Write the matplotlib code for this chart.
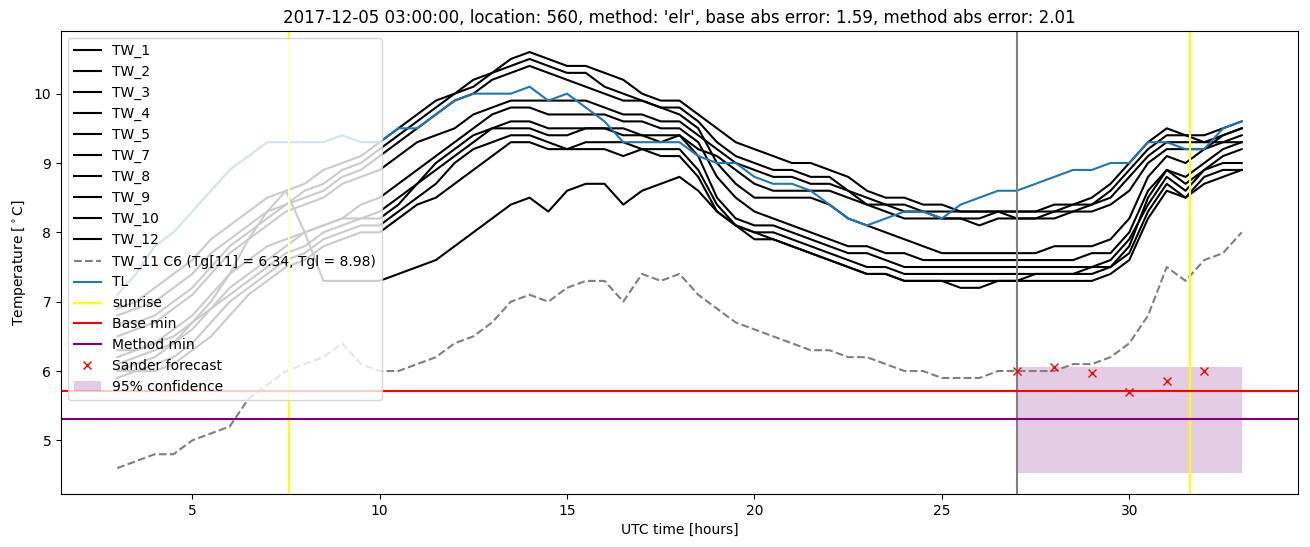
import numpy as np
import matplotlib
matplotlib.use("Agg")
import matplotlib.pyplot as plt

# half-hour samples from 03:00 to 33:00 UTC
hours = np.arange(3.0, 33.01, 0.5)

# TW sensor series
TW_1 = [6.9, 7.0, 7.2, 7.4, 7.6, 7.9, 8.1, 8.3, 8.5, 8.6, 8.7, 8.9, 9.0, 9.1, 9.3, 9.5, 9.7, 9.9, 10.0, 10.2,
        10.3, 10.5, 10.6, 10.5, 10.4, 10.4, 10.3, 10.2, 10.0, 9.9, 9.9, 9.7, 9.5, 9.3, 9.2, 9.1, 9.0, 9.0, 8.9, 8.8,
        8.6, 8.5, 8.5, 8.4, 8.4, 8.3, 8.3, 8.3, 8.3, 8.3, 8.4, 8.4, 8.5, 8.7, 9.0, 9.3, 9.5, 9.4, 9.4, 9.5, 9.6]
TW_2 = [6.8, 6.9, 7.0, 7.2, 7.4, 7.7, 7.9, 8.1, 8.3, 8.4, 8.6, 8.7, 8.9, 9.0, 9.2, 9.4, 9.6, 9.8, 10.0, 10.1,
        10.3, 10.4, 10.5, 10.4, 10.3, 10.3, 10.1, 10.0, 9.9, 9.8, 9.8, 9.6, 9.3, 9.1, 9.0, 8.9, 8.9, 8.8, 8.8, 8.6,
        8.5, 8.4, 8.4, 8.3, 8.3, 8.3, 8.3, 8.3, 8.3, 8.3, 8.3, 8.4, 8.4, 8.6, 8.9, 9.2, 9.4, 9.4, 9.3, 9.4, 9.5]
TW_3 = [6.5, 6.6, 6.7, 6.9, 7.1, 7.4, 7.7, 7.9, 8.1, 8.3, 8.4, 8.5, 8.7, 8.8, 8.9, 9.1, 9.3, 9.4, 9.5, 9.7,
        9.8, 9.9, 9.9, 9.9, 9.9, 9.9, 9.8, 9.7, 9.7, 9.6, 9.6, 9.4, 9.2, 9.0, 8.9, 8.8, 8.8, 8.7, 8.7, 8.6,
        8.4, 8.4, 8.3, 8.3, 8.2, 8.2, 8.2, 8.3, 8.2, 8.2, 8.3, 8.3, 8.4, 8.5, 8.8, 9.1, 9.3, 9.3, 9.3, 9.3, 9.4]
TW_4 = [6.2, 6.3, 6.4, 6.6, 6.8, 7.1, 7.4, 7.6, 7.8, 7.9, 8.0, 8.1, 8.2, 8.2, 8.3, 8.5, 8.7, 9.0, 9.2, 9.4,
        9.5, 9.6, 9.6, 9.5, 9.5, 9.5, 9.5, 9.5, 9.4, 9.4, 9.4, 9.2, 9.1, 8.9, 8.7, 8.6, 8.6, 8.6, 8.6, 8.5,
        8.4, 8.3, 8.2, 8.2, 8.2, 8.2, 8.1, 8.2, 8.2, 8.2, 8.2, 8.3, 8.3, 8.4, 8.6, 9.0, 9.2, 9.2, 9.2, 9.3, 9.3]
TW_5 = [6.7, 6.7, 6.8, 7.0, 7.2, 7.5, 7.8, 8.0, 8.2, 8.4, 8.5, 8.6, 8.8, 8.9, 9.1, 9.3, 9.5, 9.7, 9.9, 10.0,
        10.2, 10.3, 10.4, 10.3, 10.2, 10.1, 10.0, 9.9, 9.9, 9.8, 9.7, 9.5, 9.0, 8.7, 8.5, 8.5, 8.5, 8.5, 8.4, 8.2,
        8.1, 8.0, 7.9, 7.8, 7.7, 7.7, 7.7, 7.7, 7.7, 7.7, 7.8, 7.8, 7.8, 7.9, 8.2, 8.8, 9.1, 9.0, 9.2, 9.4, 9.5]
TW_7 = [6.3, 6.3, 6.4, 6.5, 6.7, 6.9, 7.2, 7.4, 7.6, 7.8, 8.0, 8.1, 8.2, 8.4, 8.5, 8.7, 8.9, 9.1, 9.3, 9.5,
        9.7, 9.8, 9.8, 9.7, 9.7, 9.7, 9.7, 9.6, 9.6, 9.5, 9.5, 9.3, 8.8, 8.5, 8.3, 8.2, 8.1, 8.0, 7.9, 7.8,
        7.8, 7.7, 7.7, 7.6, 7.6, 7.6, 7.6, 7.6, 7.6, 7.6, 7.6, 7.6, 7.7, 7.7, 8.0, 8.6, 8.9, 8.8, 9.0, 9.2, 9.3]
TW_8 = [6.1, 6.2, 6.3, 6.4, 6.6, 6.9, 7.1, 7.3, 7.5, 7.7, 7.8, 8.0, 8.1, 8.2, 8.2, 8.4, 8.7, 8.9, 9.1, 9.3,
        9.5, 9.5, 9.5, 9.4, 9.4, 9.5, 9.5, 9.4, 9.4, 9.3, 9.4, 9.1, 8.5, 8.2, 8.1, 8.1, 8.0, 7.9, 7.8, 7.7,
        7.7, 7.6, 7.5, 7.5, 7.5, 7.5, 7.5, 7.5, 7.5, 7.5, 7.5, 7.5, 7.5, 7.6, 7.9, 8.4, 8.8, 8.6, 8.9, 9.1, 9.2]
TW_9 = [6.0, 6.0, 6.1, 6.2, 6.4, 6.7, 7.0, 7.2, 7.4, 7.6, 7.7, 7.9, 8.0, 8.1, 8.1, 8.3, 8.5, 8.7, 9.0, 9.2,
        9.3, 9.4, 9.4, 9.3, 9.2, 9.3, 9.3, 9.3, 9.2, 9.2, 9.2, 8.9, 8.4, 8.1, 8.0, 8.0, 7.9, 7.8, 7.7, 7.6,
        7.5, 7.5, 7.4, 7.4, 7.4, 7.4, 7.4, 7.4, 7.4, 7.4, 7.4, 7.4, 7.5, 7.5, 7.8, 8.5, 8.9, 8.7, 8.9, 9.0, 9.0]
TW_10 = [5.9, 6.0, 6.0, 6.1, 6.3, 6.5, 6.8, 7.1, 7.3, 7.5, 7.6, 7.8, 7.9, 8.0, 8.0, 8.2, 8.4, 8.5, 8.7, 8.9,
         9.1, 9.3, 9.3, 9.2, 9.2, 9.2, 9.2, 9.1, 9.2, 9.1, 9.1, 8.8, 8.3, 8.1, 7.9, 7.9, 7.8, 7.7, 7.6, 7.5,
         7.4, 7.4, 7.3, 7.3, 7.3, 7.3, 7.3, 7.3, 7.3, 7.4, 7.4, 7.4, 7.4, 7.5, 7.7, 8.3, 8.7, 8.5, 8.8, 8.9, 8.9]
TW_12 = [6.0, 6.1, 6.2, 6.4, 6.7, 7.0, 7.4, 7.9, 8.3, 8.6, 8.0, 7.3, 7.3, 7.3, 7.3, 7.4, 7.5, 7.6, 7.8, 8.0,
         8.2, 8.4, 8.5, 8.3, 8.6, 8.7, 8.7, 8.4, 8.6, 8.7, 8.8, 8.6, 8.3, 8.1, 8.0, 7.9, 7.8, 7.7, 7.6, 7.5,
         7.4, 7.4, 7.3, 7.3, 7.3, 7.2, 7.2, 7.3, 7.3, 7.3, 7.3, 7.3, 7.3, 7.4, 7.6, 8.2, 8.6, 8.5, 8.7, 8.8, 8.9]

TW_11 = [4.6, 4.7, 4.8, 4.8, 5.0, 5.1, 5.2, 5.6, 5.8, 6.0, 6.1, 6.2, 6.4, 6.1, 6.0, 6.0, 6.1, 6.2, 6.4, 6.5,
         6.7, 7.0, 7.1, 7.0, 7.2, 7.3, 7.3, 7.0, 7.4, 7.3, 7.4, 7.1, 6.9, 6.7, 6.6, 6.5, 6.4, 6.3, 6.3, 6.2,
         6.2, 6.1, 6.0, 6.0, 5.9, 5.9, 5.9, 6.0, 6.0, 6.0, 6.0, 6.1, 6.1, 6.2, 6.4, 6.8, 7.5, 7.3, 7.6, 7.7, 8.0]

TL = [7.1, 7.4, 7.8, 8.0, 8.3, 8.6, 8.9, 9.1, 9.3, 9.3, 9.3, 9.3, 9.4, 9.3, 9.3, 9.5, 9.5, 9.7, 9.9, 10.0,
      10.0, 10.0, 10.1, 9.9, 10.0, 9.8, 9.6, 9.3, 9.3, 9.3, 9.3, 9.1, 9.0, 9.0, 8.8, 8.7, 8.7, 8.6, 8.4, 8.2,
      8.1, 8.2, 8.3, 8.3, 8.2, 8.4, 8.5, 8.6, 8.6, 8.7, 8.8, 8.9, 8.9, 9.0, 9.0, 9.3, 9.3, 9.2, 9.2, 9.5, 9.6]

tw_names = ["TW_1", "TW_2", "TW_3", "TW_4", "TW_5", "TW_7", "TW_8", "TW_9", "TW_10", "TW_12"]
tw_series = [TW_1, TW_2, TW_3, TW_4, TW_5, TW_7, TW_8, TW_9, TW_10, TW_12]

sunrise_hours = [7.58, 31.62]
forecast_start = 27.0
base_min = 5.71
method_min = 5.31

forecast_hours = [27, 28, 29, 30, 31, 32]
forecast_vals = [6.00, 6.06, 5.97, 5.70, 5.85, 6.00]
conf_hours = [27, 33]
conf_low = 4.53
conf_high = 6.06

fig = plt.figure(figsize=(13.1, 5.47), dpi=100)
ax = fig.add_axes([0.0466, 0.0969, 0.9442, 0.8464])

for name, vals in zip(tw_names, tw_series):
    ax.plot(hours, vals, color="k", label=name)

ax.plot(hours, TW_11, color="gray", linestyle="--",
        label="TW_11 C6 (Tg[11] = 6.34, Tgl = 8.98)")
ax.plot(hours, TL, color="tab:blue", label="TL")

ax.axvline(sunrise_hours[0], color="yellow", label="sunrise")
ax.axvline(sunrise_hours[1], color="yellow")
ax.axvline(forecast_start, color="gray")

ax.axhline(base_min, color="red", label="Base min")
ax.axhline(method_min, color="purple", label="Method min")

ax.plot(forecast_hours, forecast_vals, "rx", label="Sander forecast")
ax.fill_between(conf_hours, conf_low, conf_high, color="purple", alpha=0.2,
                linewidth=0, label="95% confidence")

ax.set_title("2017-12-05 03:00:00, location: 560, method: 'elr', "
             "base abs error: 1.59, method abs error: 2.01")
ax.set_xlabel("UTC time [hours]")
ax.set_ylabel(r"Temperature [$^\circ$C]")
ax.legend(loc="upper left")

fig.savefig("out.png", dpi=100)
